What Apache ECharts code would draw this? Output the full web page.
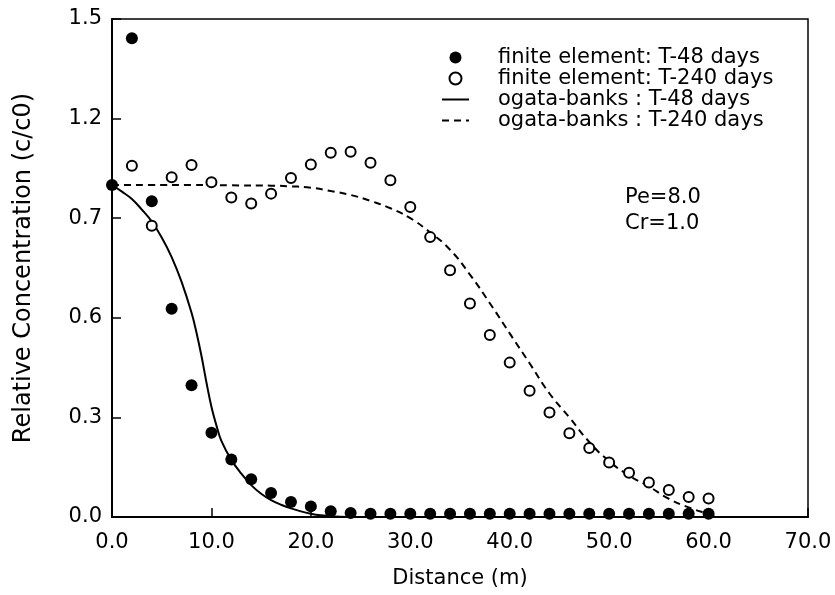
<!DOCTYPE html>
<html>
<head>
<meta charset="utf-8">
<title>Relative Concentration vs Distance</title>
<script src="https://cdn.jsdelivr.net/npm/echarts@6/dist/echarts.min.js"></script>
<style>
  html, body { margin: 0; padding: 0; background: #fff; }
  #chart { width: 835px; height: 595px; }
</style>
</head>
<body>
<div id="chart"></div>
<script>
// finite element results, every 2 m
const feX48 = [0, 2, 4, 6, 8, 10, 12, 14, 16, 18, 20, 22, 24, 26, 28, 30, 32, 34, 36, 38, 40, 42, 44, 46, 48, 50, 52, 54, 56, 58, 60]
const feY48 = [1.0, 1.442, 0.951, 0.627, 0.397, 0.254, 0.173, 0.114, 0.072, 0.045, 0.032, 0.017, 0.012, 0.01, 0.01, 0.01, 0.01, 0.01, 0.01, 0.01, 0.01, 0.01, 0.01, 0.01, 0.01, 0.01, 0.01, 0.01, 0.01, 0.01, 0.01]

const feX240 = [2, 4, 6, 8, 10, 12, 14, 16, 18, 20, 22, 24, 26, 28, 30, 32, 34, 36, 38, 40, 42, 44, 46, 48, 50, 52, 54, 56, 58, 60]
const feY240 = [1.058, 0.877, 1.023, 1.060, 1.008, 0.962, 0.944, 0.974, 1.021, 1.062, 1.097, 1.100, 1.067, 1.014, 0.934, 0.843, 0.743, 0.643, 0.548, 0.465, 0.380, 0.315, 0.252, 0.208, 0.164, 0.133, 0.104, 0.081, 0.060, 0.056]

// ogata-banks curves
const obX48 = [0, 1, 2, 3, 4, 5, 6, 7, 8, 8.5, 9, 9.5, 10, 10.5, 11, 12, 13, 14, 15, 16, 17, 18, 19, 20, 21, 22, 24]
const obY48 = [1.0, 0.98, 0.958, 0.926, 0.89, 0.842, 0.783, 0.708, 0.615, 0.555, 0.485, 0.405, 0.332, 0.276, 0.229, 0.172, 0.131, 0.096, 0.070, 0.051, 0.037, 0.026, 0.017, 0.010, 0.005, 0.002, 0.0]

const obX240 = [0, 4, 8, 12, 16, 18, 20, 22, 24, 26, 28, 30, 32, 34, 36, 38, 40, 42, 44, 46, 48, 50, 52, 54, 56, 58, 60, 61]
const obY240 = [1.0, 1.0, 1.0, 0.999, 0.998, 0.996, 0.992, 0.982, 0.97, 0.952, 0.93, 0.90, 0.857, 0.805, 0.73, 0.644, 0.553, 0.463, 0.372, 0.30, 0.226, 0.168, 0.125, 0.092, 0.055, 0.029, 0.009, 0.0]

// tick labels as printed on the figure
const yTickLabels = ['0.0', '0.3', '0.6', '0.7', '1.2', '1.5']
const xTickLabels = ['0.0', '10.0', '20.0', '30.0', '40.0', '50.0', '60.0', '70.0']

const seriesNames = [
  'finite element: T-48 days',
  'finite element: T-240 days',
  'ogata-banks : T-48 days',
  'ogata-banks : T-240 days'
]

const FONT = 'DejaVu Sans'
const pairs = (xs, ys) => xs.map((x, i) => [x, ys[i]])

const myChart = echarts.init(document.getElementById('chart'), null, { renderer: 'canvas' })

const options = {
  animation: false,
  backgroundColor: '#fff',
  textStyle: { fontFamily: FONT, color: '#000' },
  grid: {
    left: 112,
    right: 27,
    top: 19,
    bottom: 78,
    containLabel: false,
    outerBoundsMode: 'none',
    show: true,
    borderColor: '#000',
    borderWidth: 1.5
  },
  legend: {
    orient: 'vertical',
    left: 436,
    top: 42,
    itemWidth: 27,
    itemHeight: 12,
    itemGap: 0,
    selectedMode: false,
    // line entries: hide the symbol, keep only the line
    data: [
      { name: seriesNames[0] },
      { name: seriesNames[1] },
      { name: seriesNames[2], itemStyle: { opacity: 0 } },
      { name: seriesNames[3], itemStyle: { opacity: 0 } }
    ],
    textStyle: {
      fontFamily: FONT,
      fontSize: 21,
      lineHeight: 21,
      color: '#000',
      padding: [0, 0, 0, 24]
    }
  },
  xAxis: {
    type: 'value',
    min: 0,
    max: 70,
    interval: 10,
    name: 'Distance (m)',
    nameLocation: 'middle',
    nameGap: 51,
    nameTextStyle: { fontFamily: FONT, fontSize: 21, color: '#000' },
    axisLine: { show: true, onZero: false, lineStyle: { color: '#000', width: 2 } },
    axisTick: { show: true, inside: true, length: 9, lineStyle: { color: '#000', width: 1.5 } },
    axisLabel: {
      fontFamily: FONT,
      fontSize: 21,
      color: '#000',
      margin: 15,
      formatter: (v) => xTickLabels[Math.round(v / 10)]
    },
    splitLine: { show: false }
  },
  yAxis: {
    type: 'value',
    min: 0,
    max: 1.5,
    interval: 0.3,
    name: 'Relative Concentration (c/c0)',
    nameLocation: 'middle',
    nameRotate: 90,
    nameGap: 76,
    nameTextStyle: { fontFamily: FONT, fontSize: 24, color: '#000' },
    axisLine: { show: true, onZero: false, lineStyle: { color: '#000', width: 2 } },
    axisTick: { show: true, inside: true, length: 9, lineStyle: { color: '#000', width: 1.5 } },
    axisLabel: {
      fontFamily: FONT,
      fontSize: 21,
      color: '#000',
      margin: 10,
      formatter: (v) => yTickLabels[Math.round(v / 0.3)]
    },
    splitLine: { show: false }
  },
  graphic: [
    {
      type: 'text',
      left: 625,
      top: 187,
      style: { text: 'Pe=8.0', font: '21px "DejaVu Sans"', fill: '#000' }
    },
    {
      type: 'text',
      left: 625,
      top: 213,
      style: { text: 'Cr=1.0', font: '21px "DejaVu Sans"', fill: '#000' }
    }
  ],
  series: [
    {
      name: seriesNames[0],
      type: 'scatter',
      symbol: 'circle',
      symbolSize: 12,
      clip: false,
      z: 4,
      itemStyle: { color: '#000', opacity: 1 },
      data: pairs(feX48, feY48)
    },
    {
      name: seriesNames[1],
      type: 'scatter',
      symbol: 'emptyCircle',
      symbolSize: 10,
      clip: false,
      z: 3,
      itemStyle: { color: '#000', borderColor: '#000', borderWidth: 1.8, opacity: 1 },
      data: pairs(feX240, feY240)
    },
    {
      name: seriesNames[2],
      type: 'line',
      smooth: 0.4,
      symbol: 'none',
      z: 2,
      itemStyle: { color: '#000' },
      lineStyle: { color: '#000', width: 2, type: 'solid' },
      data: pairs(obX48, obY48)
    },
    {
      name: seriesNames[3],
      type: 'line',
      smooth: true,
      symbol: 'none',
      z: 2,
      itemStyle: { color: '#000' },
      lineStyle: { color: '#000', width: 2, type: [7, 5] },
      data: pairs(obX240, obY240)
    }
  ]
}

myChart.setOption(options)
</script>
</body>
</html>
